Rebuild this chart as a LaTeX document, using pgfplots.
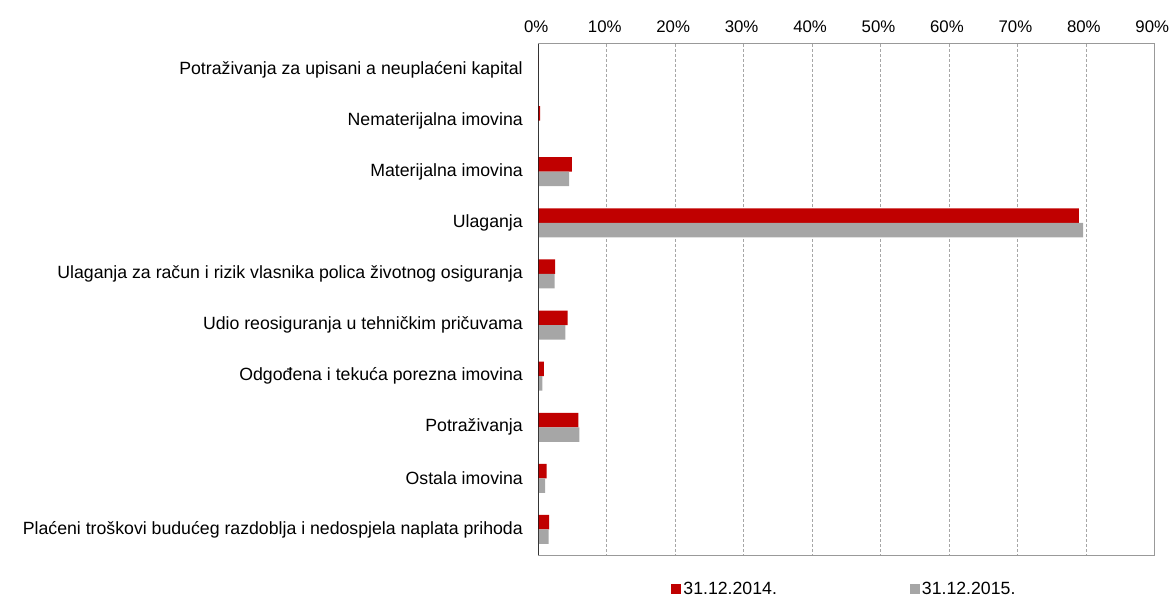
\documentclass[border=0pt]{standalone}
\usepackage{pgfplots}
\pgfplotsset{compat=1.18}
\usepackage{fontspec}
\setmainfont{Liberation Sans}
\definecolor{cred}{RGB}{192,0,0}
\definecolor{cgray}{RGB}{166,166,166}
\begin{document}
\begin{tikzpicture}
\useasboundingbox (-538.3pt,-41pt) rectangle (634.7pt,555pt);
\begin{axis}[
  at={(0pt,0pt)}, anchor=south west,
  scale only axis,
  width=616pt, height=511pt,
  xbar, bar width=14.5pt,
  xmin=0, xmax=90,
  ymin=-0.5, ymax=9.5, y dir=reverse,
  xtick={0,10,...,90},
  xticklabels={0\%,10\%,20\%,30\%,40\%,50\%,60\%,70\%,80\%,90\%},
  xticklabel pos=top,
  ytick={0,...,9},
  yticklabels={Potraživanja za upisani a neuplaćeni kapital, Nematerijalna imovina, Materijalna imovina\hspace{4pt}, Ulaganja\hspace{5pt}, Ulaganja za račun i rizik vlasnika polica životnog osiguranja, Udio reosiguranja u tehničkim pričuvama, Odgođena i tekuća porezna imovina, Potraživanja\hspace{5pt}, Ostala imovina\hspace{4pt}, Plaćeni troškovi budućeg razdoblja i nedospjela naplata prihoda},
  major tick length=0pt,
  yticklabel style={xshift=-12pt, font=\fontsize{17.7}{20}\selectfont},
  xticklabel style={yshift=8pt, xshift=-2pt, font=\fontsize{16.8}{20}\selectfont},
  xmajorgrids, major grid style={gray!70, dash pattern=on 3pt off 2pt, line width=0.6pt},
  axis line style={draw=gray!80, line width=1pt},
  legend columns=2,
  legend style={draw=none, at={(0.497,-0.045)}, anchor=north, font=\fontsize{17.7}{20}\selectfont,
    /tikz/every even column/.append style={column sep=131pt}},
  legend image code/.code={\fill[#1] (0pt,-5pt) rectangle (10pt,5pt);},
]
\addplot[fill=cred, draw=none, bar shift=7.25pt] coordinates {(0,0) (0.25,1) (4.9,2) (79.0,3) (2.45,4) (4.3,5) (0.8,6) (5.85,7) (1.2,8) (1.6,9)};
\addplot[fill=cgray, draw=none, bar shift=-7.25pt] coordinates {(0,0) (0.1,1) (4.5,2) (79.6,3) (2.4,4) (3.95,5) (0.6,6) (6.0,7) (1.0,8) (1.5,9)};
\legend{31.12.2014.,31.12.2015.}
\draw[black, line width=1.2pt] (rel axis cs:0,0) -- (rel axis cs:0,1);
\end{axis}
\end{tikzpicture}
\end{document}
